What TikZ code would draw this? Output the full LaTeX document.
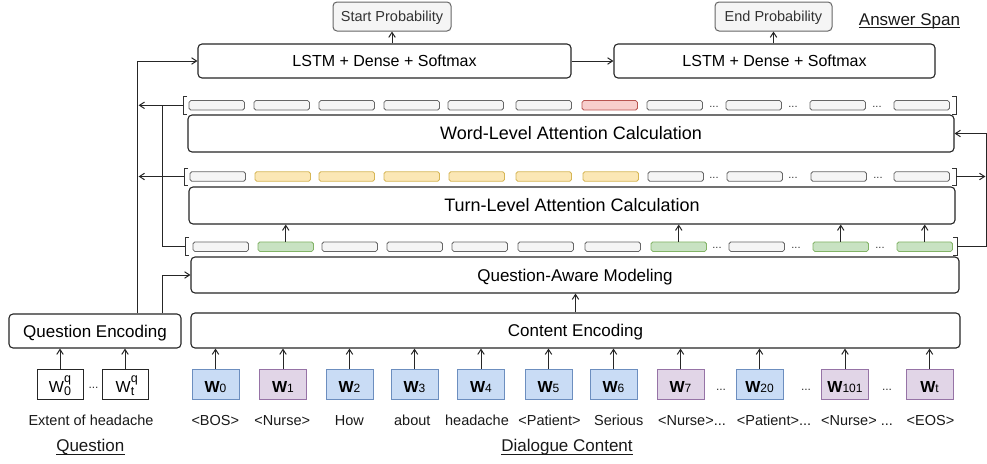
\documentclass[tikz,border=0pt]{standalone}
\usepackage{fontspec}
\setmainfont{Liberation Sans}
\usetikzlibrary{arrows.meta}
\definecolor{gfill}{HTML}{F5F5F5}
\definecolor{gstroke}{HTML}{666666}
\definecolor{yfill}{HTML}{FBE7B5}
\definecolor{ystroke}{HTML}{D6B656}
\definecolor{rfill}{HTML}{F8CECC}
\definecolor{rstroke}{HTML}{B85450}
\definecolor{grfill}{HTML}{C8E2C2}
\definecolor{grstroke}{HTML}{82B366}
\definecolor{bfill}{HTML}{C9DCF5}
\definecolor{bstroke}{HTML}{6C8EBF}
\definecolor{pfill}{HTML}{E1D5E7}
\definecolor{pstroke}{HTML}{9673A6}
\newcommand\tokW[1]{{\fontsize{16}{16}\selectfont\bfseries W}{\fontsize{12}{12}\selectfont #1}}
\newcommand\qW[1]{W\rlap{\raisebox{10.5pt}{\fontsize{12.5}{12.5}\selectfont q}}\raisebox{-3pt}{\fontsize{12.5}{12.5}\selectfont #1}}
\tikzset{
  arr/.style={draw=black!85, line width=1pt, -{Straight Barb[length=5pt,width=6.5pt]}},
  ln/.style={draw=black!85, line width=1pt},
  brk/.style={draw=black!80, line width=1pt},
  bigbox/.style={draw=black!85, line width=1.1pt, rounded corners=4pt, fill=white, inner sep=0pt,
    font=\fontsize{18}{18}\selectfont, text height=12.9pt, text depth=0pt},
  midbox/.style={bigbox, font=\fontsize{17}{17}\selectfont, text height=12.2pt},
  lstmbox/.style={bigbox, font=\fontsize{16}{16}\selectfont, text height=11.5pt, minimum height=34pt},
  probbox/.style={draw=gstroke, fill=gfill, rounded corners=4pt, line width=1pt, text=black!80,
    font=\fontsize{14.5}{14.5}\selectfont, minimum height=29pt, inner sep=0pt,
    text height=10.4pt, text depth=0pt},
  cell/.style={draw=gstroke, fill=gfill, rounded corners=1.8pt, line width=0.8pt,
    minimum width=55.5pt, minimum height=9.5pt, inner sep=0pt},
  gc/.style={cell},
  yc/.style={cell, fill=yfill, draw=ystroke},
  rc/.style={cell, fill=rfill, draw=rstroke},
  grc/.style={cell, fill=grfill, draw=grstroke},
  tok/.style={minimum width=47pt, minimum height=30pt, inner sep=0pt, line width=1pt,
    text height=17.6pt, text depth=0pt},
  bt/.style={tok, fill=bfill, draw=bstroke},
  pt/.style={tok, fill=pfill, draw=pstroke},
  qt/.style={tok, minimum width=46pt, fill=white, draw=black!85, font=\fontsize{16}{16}\selectfont},
  lab/.style={font=\fontsize{14.5}{14.5}\selectfont, text=black!90, anchor=base, inner sep=0pt},
  ttl/.style={font=\fontsize{17}{17}\selectfont, text=black!90, anchor=base, inner sep=0pt},
  dts/.style={font=\fontsize{11}{11}\selectfont, inner sep=0pt, text=black!80},
}
\begin{document}
\begin{tikzpicture}[x=1pt,y=-1pt]
\useasboundingbox (0,0) rectangle (987,463);
\fill[white] (0,0) rectangle (987,463);

% top outputs
\node[probbox, minimum width=118pt] (startp) at (392,16.5) {Start Probability};
\node[probbox, minimum width=117pt] (endp) at (773.5,16.5) {End Probability};
\node[ttl] (ans) at (909.5,25) {Answer Span};
\draw[line width=0.9pt, black!90] ([yshift=-2pt]ans.base west) -- ([yshift=-2pt]ans.base east);

\node[lstmbox, minimum width=373pt] (lstm1) at (384.5,61) {LSTM + Dense + Softmax};
\node[lstmbox, minimum width=321pt] (lstm2) at (774.5,61) {LSTM + Dense + Softmax};

% main boxes
\node[bigbox, minimum width=766pt, minimum height=37pt] (word) at (571,133.5) {Word-Level Attention Calculation};
\node[bigbox, minimum width=766pt, minimum height=37pt] (turn) at (572,205.5) {Turn-Level Attention Calculation};
\node[midbox, minimum width=768pt, minimum height=36pt] (qam) at (575,275) {Question-Aware Modeling};
\node[midbox, minimum width=769pt, minimum height=35pt] (ce) at (575.5,330.5) {Content Encoding};
\node[midbox, minimum width=172pt, minimum height=34pt] (qe) at (95,331) {Question Encoding};

% rows of cells
\foreach \x/\s [count=\i] in {189/gc,254/gc,319/gc,384/gc,448/gc,516/gc,582/rc,647/gc,726/gc,810/gc,894/gc}
  \node[\s] (a\i) at (\x+27.75,105.3) {};
\foreach \x/\s [count=\i] in {190/gc,255/yc,319/yc,384/yc,449/yc,516/yc,583/yc,648/gc,727/gc,811/gc,894/gc}
  \node[\s] (b\i) at (\x+27.75,176.5) {};
\foreach \x/\s [count=\i] in {193/gc,258/grc,322/gc,387/gc,452/gc,518/gc,585/gc,651/grc,729/gc,813/grc,897/grc}
  \node[\s] (c\i) at (\x+27.75,246.7) {};
\foreach \x [count=\i] in {714,793,877} \node[dts] (ad\i) at (\x,106.5) {...};
\foreach \x [count=\i] in {714,793,878} \node[dts] (bd\i) at (\x,177.7) {...};
\foreach \x [count=\i] in {717,796,880} \node[dts] (cd\i) at (\x,247.9) {...};

% brackets
\draw[brk] (187,96) -- (183,96) -- (183,114) -- (187,114);
\draw[brk] (188,168) -- (184,168) -- (184,185) -- (188,185);
\draw[brk] (189,237) -- (185,237) -- (185,255) -- (189,255);
\draw[brk] (952,96) -- (956,96) -- (956,114) -- (952,114);
\draw[brk] (952,168) -- (956,168) -- (956,185) -- (952,185);
\draw[brk] (953,237) -- (957,237) -- (957,255) -- (953,255);
\coordinate (ltb) at (183,105.3);
\coordinate (ltt) at (184,176.5);
\coordinate (lbt) at (185,246.7);
\coordinate (rtt) at (956,176.5);
\coordinate (rbt) at (957,246.7);

% helper coordinates
\coordinate (XL) at (137.7,0);
\coordinate (XQ) at (162,0);
\coordinate (XR) at (986,0);
\coordinate (LA) at (138.6,105.3);
\coordinate (LB) at (138.6,176.5);
\coordinate (J) at (162,105.3);
\coordinate (RB) at (985.4,176.5);

% connectors
\draw[arr] (lstm1.north -| startp) -- (startp.south);
\draw[arr] (lstm2.north -| endp) -- (endp.south);
\draw[arr] (lstm1.east) -- (lstm2.west);
\draw[arr] (ltb) -- (LA);
\draw[arr] (ltt) -- (LB);
\draw[ln] (lbt) -| (J);
\draw[arr] (qe.north -| XL) |- (lstm1.west);
\draw[arr] (qe.north -| XQ) |- (qam.west);
\draw[arr] (rbt) -| (XR |- word.east) -- (word.east);
\draw[arr] (rtt) -- (RB);
\foreach \c in {c2,c8,c10,c11}
  \draw[arr] (\c.north) -- (\c.north |- turn.south);
\draw[arr] (ce.north) -- (ce.north |- qam.south);

% dialogue tokens
\foreach \x/\s/\t [count=\i] in {215.5/bt/0,283/pt/1,349.5/bt/2,414.5/bt/3,481/bt/4,548.5/bt/5,613.5/bt/6,680.5/pt/7,759.5/bt/20,845/pt/101,929.5/pt/t}
{
  \node[\s] (w\i) at (\x,384) {\tokW{\t}};
  \draw[arr] (w\i.north) -- (w\i.north |- ce.south);
}
\foreach \x [count=\i] in {721,806,887} \node[dts, font=\fontsize{12}{12}\selectfont] (wd\i) at (\x,390) {...};

% question tokens
\node[qt] (q0) at (60,384) {\qW{0}};
\node[qt] (q1) at (125,384) {\qW{t}};
\node[dts, font=\fontsize{12}{12}\selectfont] (qd) at (93.5,387.5) {...};
\draw[arr] (q0.north) -- (q0.north |- qe.south);
\draw[arr] (q1.north) -- (q1.north |- qe.south);

% labels
\node[lab] (lq) at (91,425.5) {Extent of headache};
\foreach \x/\t [count=\i] in {215.3/{<BOS>},282.3/{<Nurse>},349.3/{How},412.3/{about},477/{headache},549.5/{<Patient>},618.7/{Serious},692/{<Nurse>...},774/{<Patient>...},857/{<Nurse> ...},930.5/{<EOS>}}
  \node[lab] (l\i) at (\x,425.5) {\t};

\node[ttl] (tq) at (90.3,451.7) {Question};
\draw[line width=0.9pt, black!90] ([yshift=-2.3pt]tq.base west) -- ([yshift=-2.3pt]tq.base east);
\node[ttl] (td) at (567,451.7) {Dialogue Content};
\draw[line width=0.9pt, black!90] ([yshift=-2.3pt]td.base west) -- ([yshift=-2.3pt]td.base east);
\end{tikzpicture}
\end{document}
